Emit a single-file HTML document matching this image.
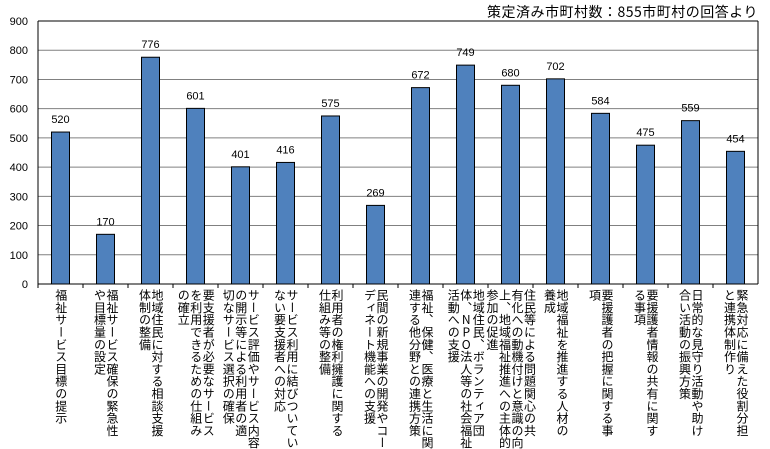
<!DOCTYPE html>
<html><head><meta charset="utf-8">
<style>
body{margin:0;background:#fff;width:770px;height:440px;overflow:hidden;position:relative;font-family:"Liberation Sans","Noto Sans CJK JP",sans-serif;}
svg{position:absolute;left:0;top:0}
.lbl{position:absolute;top:289px;writing-mode:vertical-rl;text-orientation:upright;font-size:12px;line-height:12.5px;letter-spacing:0.3px;color:#000;white-space:nowrap;transform:translateX(-50%);font-family:"Noto Sans CJK JP",sans-serif;}
#note{position:absolute;right:12px;top:2px;font-size:14px;letter-spacing:0.5px;font-family:"Noto Sans CJK JP",sans-serif;}
</style></head><body>
<div id="note">策定済み市町村数：855市町村の回答より</div>
<svg id="chart" width="770" height="440"></svg>
<div id="labels"></div>
<script>
const categories=[
["福祉サービス目標の提示"],
["福祉サービス確保の緊急性","や目標量の設定"],
["地域住民に対する相談支援","体制の整備"],
["要支援者が必要なサービス","を利用できるための仕組み","の確立"],
["サービス評価やサービス内容","の開示等による利用者の適","切なサービス選択の確保"],
["サービス利用に結びついてい","ない要支援者への対応"],
["利用者の権利擁護に関する","仕組み等の整備"],
["民間の新規事業の開発やコー","ディネート機能への支援"],
["福祉、保健、医療と生活に関","連する他分野との連携方策"],
["地域住民、ボランティア団","体、NPO法人等の社会福祉","活動への支援"],
["住民等による問題関心の共","有化への動機付けと意識の向","上、地域福祉推進への主体的","参加の促進"],
["地域福祉を推進する人材の","養成"],
["要援護者の把握に関する事","項"],
["要援護者情報の共有に関す","る事項"],
["日常的な見守り活動や助け","合い活動の振興方策"],
["緊急対応に備えた役割分担","と連携体制作り"]];
const values=[520,170,776,601,401,416,575,269,672,749,680,702,584,475,559,454];
const yTicks=[0,100,200,300,400,500,600,700,800,900];

const L=38,R=758,T=21,B=284,yMax=900;
const band=(R-L)/values.length;
const x=i=>L+band*(i+0.5);
const y=v=>B-(v/yMax)*(B-T);
const svg=document.getElementById('chart');
const NS='http://www.w3.org/2000/svg';
function mk(tag,attrs){const e=document.createElementNS(NS,tag);for(const k in attrs)e.setAttribute(k,attrs[k]);svg.appendChild(e);return e;}
yTicks.forEach(t=>{
  const g=mk('line',{x1:L,x2:R,y1:y(t),y2:y(t),stroke:t===0||t===yMax?'#000':'#808080','stroke-width':1});
  
  
  const tx=mk('text',{x:L-10,y:y(t)+4,'text-anchor':'end','font-size':'11','font-family':'Liberation Sans, sans-serif'});
  tx.textContent=t;
  
  
});
const ax=mk('line',{x1:L,x2:L,y1:T,y2:B,stroke:'#000'});


const rx=mk('line',{x1:R,x2:R,y1:T,y2:B,stroke:'#000'});


const bw=18;
values.forEach((v,i)=>{
  const r=mk('rect',{x:x(i)-bw/2,y:y(v),width:bw,height:B-y(v),fill:'#4f81bd',stroke:'#000','stroke-width':1});
  
  
  const t=mk('text',{x:x(i),y:y(v)-9,'text-anchor':'middle','font-size':'11','font-family':'Liberation Sans, sans-serif'});
  t.textContent=v;
  
  
  mk('line',{x1:x(i)-band/2,x2:x(i)-band/2,y1:B,y2:B+4,stroke:'#000'});
});
const lc=document.getElementById('labels');
categories.forEach((lines,i)=>{
  const d=document.createElement('div');
  d.className='lbl';
  d.style.left=x(i)+'px';
  d.innerHTML=lines.join('<br>');
  
  
  lc.appendChild(d);
});
</script>
</body></html>
